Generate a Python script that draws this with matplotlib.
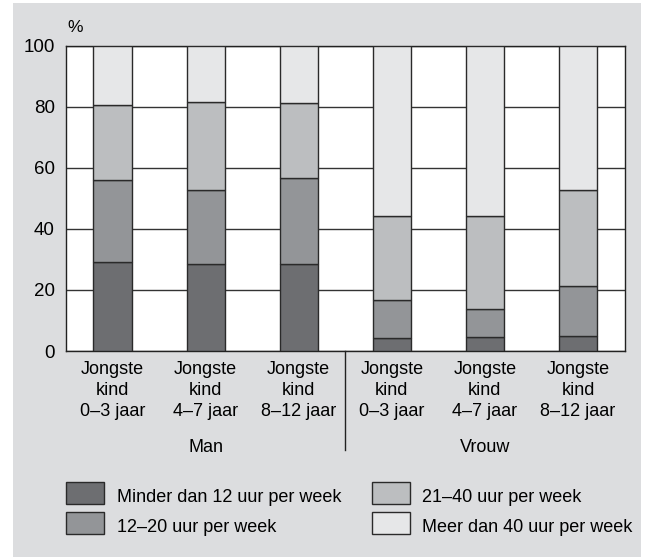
import matplotlib.pyplot as plt
from matplotlib.patches import Rectangle

plt.rcParams['font.family'] = ['Liberation Sans', 'DejaVu Sans']

# Data: segment sizes (%)
groups = ["Man", "Vrouw"]
categories = ["Jongste\nkind\n0–3 jaar", "Jongste\nkind\n4–7 jaar", "Jongste\nkind\n8–12 jaar",
              "Jongste\nkind\n0–3 jaar", "Jongste\nkind\n4–7 jaar", "Jongste\nkind\n8–12 jaar"]
series_names = ["Minder dan 12 uur per week", "12–20 uur per week",
                "21–40 uur per week", "Meer dan 40 uur per week"]
under_12 = [29.3, 28.6, 28.4, 4.4, 4.6, 4.8]
h12_20 = [26.6, 24.2, 28.2, 12.4, 9.0, 16.6]
h21_40 = [24.7, 28.6, 24.6, 27.3, 30.7, 31.4]
over_40 = [19.4, 18.6, 18.8, 55.9, 55.7, 47.2]

colors = ["#6d6e71", "#939598", "#bcbec0", "#e6e7e8"]
bg = "#dcdddf"
W, H = 645, 557

fig = plt.figure(figsize=(6.45, 5.57), dpi=100)
fig.patch.set_facecolor("white")
fig.patches.append(Rectangle((13 / W, 0), (641 - 13) / W, (H - 3.3) / H,
                             transform=fig.transFigure, facecolor=bg, edgecolor="none", zorder=-1))

ax = fig.add_axes([66 / W, (H - 351) / H, (624.5 - 66) / W, (351 - 45.7) / H])
ax.set_facecolor("white")

x = list(range(len(categories)))
bottom = [0] * len(x)
for vals, col, name in zip([under_12, h12_20, h21_40, over_40], colors, series_names):
    ax.bar(x, vals, bottom=bottom, width=0.41, color=col, edgecolor="#2a2a2a",
           linewidth=1.0, label=name, zorder=3)
    bottom = [b + v for b, v in zip(bottom, vals)]

ax.set_xlim(-0.5, 5.5)
ax.set_ylim(0, 100)
ax.set_yticks([0, 20, 40, 60, 80, 100])
ax.yaxis.grid(True, color="#333333", linewidth=1.0, zorder=0)
ax.set_axisbelow(True)
for s in ax.spines.values():
    s.set_color("#222222")
    s.set_linewidth(1.0)
ax.tick_params(axis="y", length=0, pad=8, labelsize=13.5)
ax.tick_params(axis="x", length=0, pad=7, labelsize=13)
ax.set_xticks(x)
ax.set_xticklabels(categories, linespacing=1.3)

ax.text(0.016, 1.06, "%", transform=ax.transAxes, fontsize=12.5, ha="center", va="center")

# group labels and separator
for i, g in enumerate(groups):
    ax.text(1 + 3 * i, -31.5, g, ha="center", va="center", fontsize=13, clip_on=False)
ax.plot([2.5, 2.5], [0, -32.5], color="#222222", linewidth=1.0, clip_on=False)

# legend drawn as boxes + labels, two columns
leg_cols = [(66, 117), (66, 117), (372, 422), (372, 422)]
leg_rows = [493, 523, 493, 523]
for col, name, (px, tx), ry in zip(colors, series_names, leg_cols, leg_rows):
    fig.patches.append(Rectangle((px / W, 1 - (ry + 11) / H), 38 / W, 22 / H,
                                 transform=fig.transFigure, facecolor=col,
                                 edgecolor="#2a2a2a", linewidth=1.0))
    fig.text(tx / W, 1 - (ry + 4) / H, name, fontsize=13, ha="left", va="center")

fig.savefig("out.png", dpi=100, facecolor=fig.get_facecolor())
